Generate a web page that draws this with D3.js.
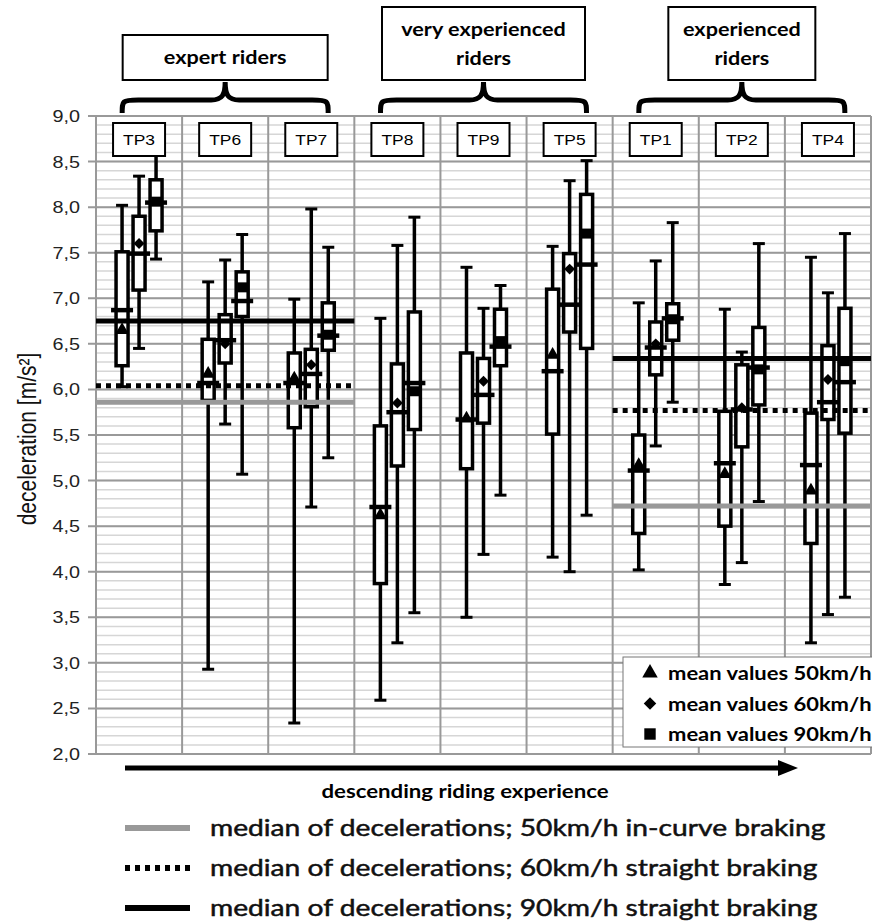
<!DOCTYPE html>
<meta charset="utf-8">
<head>
    <title>Deceleration box plots</title>
    <script src="https://d3js.org/d3.v7.min.js"></script>
</head>

<style>
    body { margin: 0; background: #fff; }
    text { font-family: "Liberation Sans", Arial, sans-serif; }
    .head { font-family: Lato, "Open Sans", sans-serif; font-weight: bold; }
    .plain { font-family: Lato, "Open Sans", sans-serif; font-weight: normal; }
</style>

<svg id="chart"></svg>

<script>
    // participants, left to right
    var participants = ["TP3", "TP6", "TP7", "TP8", "TP9", "TP5", "TP1", "TP2", "TP4"];
    var speeds = ["50", "60", "90"];

    // 50 km/h in-curve braking
    var min50  = [6.03, 2.93, 2.34, 2.59, 3.50, 4.16, 4.02, 3.86, 3.22];
    var q1_50  = [6.26, 5.88, 5.58, 3.87, 5.13, 5.51, 4.42, 4.50, 4.31];
    var med50  = [6.87, 6.07, 6.07, 4.71, 5.67, 6.20, 5.11, 5.19, 5.17];
    var q3_50  = [7.51, 6.55, 6.40, 5.60, 6.40, 7.10, 5.50, 5.76, 5.74];
    var max50  = [8.02, 7.18, 6.99, 6.78, 7.34, 7.57, 6.95, 6.88, 7.45];
    var mean50 = [6.65, 6.17, 6.12, 4.62, 5.68, 6.38, 5.17, 5.07, 4.89];

    // 60 km/h straight braking
    var min60  = [6.45, 5.62, 4.71, 3.22, 4.19, 4.00, 5.38, 4.10, 3.53];
    var q1_60  = [7.09, 6.29, 5.81, 5.16, 5.63, 6.63, 6.16, 5.37, 5.67];
    var med60  = [7.49, 6.54, 6.17, 5.75, 5.94, 6.93, 6.46, 5.78, 5.86];
    var q3_60  = [7.90, 6.82, 6.44, 6.28, 6.34, 7.49, 6.74, 6.27, 6.48];
    var max60  = [8.34, 7.42, 7.98, 7.58, 6.89, 8.29, 7.41, 6.41, 7.06];
    var mean60 = [7.60, 6.50, 6.27, 5.85, 6.09, 7.32, 6.50, 5.80, 6.11];

    // 90 km/h straight braking
    var min90  = [7.43, 5.07, 5.25, 3.55, 4.84, 4.62, 5.86, 4.77, 3.72];
    var q1_90  = [7.74, 6.80, 6.43, 5.56, 6.26, 6.45, 6.54, 5.83, 5.52];
    var med90  = [8.05, 6.97, 6.59, 6.07, 6.47, 7.37, 6.78, 6.24, 6.08];
    var q3_90  = [8.30, 7.29, 6.95, 6.85, 6.88, 8.14, 6.94, 6.68, 6.89];
    var max90  = [8.62, 7.70, 7.56, 7.89, 7.14, 8.51, 7.83, 7.60, 7.71];
    var mean90 = [8.06, 7.12, 6.60, 5.98, 6.53, 7.71, 6.77, 6.22, 6.31];

    // rider groups and their medians (null = not drawn)
    var groupLines = [["expert riders"], ["very experienced", "riders"], ["experienced", "riders"]];
    var groupMembers = [["TP3", "TP6", "TP7"], ["TP8", "TP9", "TP5"], ["TP1", "TP2", "TP4"]];
    var groupMed50 = [5.86, null, 4.72];
    var groupMed60 = [6.04, null, 5.77];
    var groupMed90 = [6.75, null, 6.34];

    var yTicks = [2, 2.5, 3, 3.5, 4, 4.5, 5, 5.5, 6, 6.5, 7, 7.5, 8, 8.5, 9];

    var W = 872, H = 923;
    var SX = 1.2; // the original picture is stretched sideways
    var svg = d3.select('#chart').attr('width', W).attr('height', H);

    function stext(sel, tx, ty) {
        return sel.append('text')
            .attr('transform', 'translate(' + tx + ',' + ty + ') scale(' + SX + ',1)');
    }

    var y = d3.scaleLinear().domain([2, 9]).range([754, 116]);
    var x = d3.scaleBand().domain(participants).range([96, 871]);
    var xs = d3.scalePoint().domain(speeds).range([-17, 17]);

    var stats = {
        "50": [min50, q1_50, med50, q3_50, max50, mean50],
        "60": [min60, q1_60, med60, q3_60, max60, mean60],
        "90": [min90, q1_90, med90, q3_90, max90, mean90]
    };
    var boxes = [];
    speeds.forEach(function (s) {
        participants.forEach(function (p, i) {
            var a = stats[s];
            boxes.push({tp: p, speed: s, min: a[0][i], q1: a[1][i], med: a[2][i],
                        q3: a[3][i], max: a[4][i], mean: a[5][i]});
        });
    });
    function cx(d) { return x(d.tp) + x.bandwidth() / 2 + xs(d.speed); }

    // grid
    var grid = svg.append('g');
    var minor = d3.range(20, 91).map(function (v) { return v / 10; });
    grid.selectAll('line.minor').data(minor).enter().append('line')
        .attr('x1', 96).attr('x2', 871)
        .attr('y1', function (d) { return y(d); }).attr('y2', function (d) { return y(d); })
        .attr('stroke', '#d6d6d6').attr('stroke-width', 1.5);
    grid.selectAll('line.major').data(yTicks).enter().append('line')
        .attr('x1', 88).attr('x2', 871)
        .attr('y1', function (d) { return y(d); }).attr('y2', function (d) { return y(d); })
        .attr('stroke', '#999').attr('stroke-width', 2);
    grid.selectAll('line.col').data(d3.range(10)).enter().append('line')
        .attr('x1', function (d) { return 96 + d * x.step(); })
        .attr('x2', function (d) { return 96 + d * x.step(); })
        .attr('y1', 116).attr('y2', 754)
        .attr('stroke', '#999').attr('stroke-width', 2);

    // y axis labels
    yTicks.forEach(function (t) {
        stext(svg, 80, y(t) + 6)
            .attr('text-anchor', 'end').attr('font-size', 16.5).attr('fill', '#222')
            .text(d3.format('.1f')(t).replace('.', ','));
    });
    svg.append('text')
        .attr('transform', 'translate(36,439) scale(' + SX + ',1) rotate(-90)')
        .attr('text-anchor', 'middle').attr('font-size', 21).attr('fill', '#111')
        .text('deceleration [m/s²]');

    // whiskers
    var plot = svg.append('g');
    plot.selectAll('line.wh').data(boxes).enter().append('line')
        .attr('x1', cx).attr('x2', cx)
        .attr('y1', function (d) { return y(d.min); }).attr('y2', function (d) { return y(d.max); })
        .attr('stroke', '#000').attr('stroke-width', 3.5);
    ['min', 'max'].forEach(function (k) {
        plot.selectAll('line.cap' + k).data(boxes).enter().append('line')
            .attr('x1', function (d) { return cx(d) - 6; }).attr('x2', function (d) { return cx(d) + 6; })
            .attr('y1', function (d) { return y(d[k]); }).attr('y2', function (d) { return y(d[k]); })
            .attr('stroke', '#000').attr('stroke-width', 3);
    });
    // boxes
    plot.selectAll('rect.box').data(boxes).enter().append('rect')
        .attr('x', function (d) { return cx(d) - 6; }).attr('width', 12)
        .attr('y', function (d) { return y(d.q3); })
        .attr('height', function (d) { return y(d.q1) - y(d.q3); })
        .attr('fill', '#fff').attr('stroke', '#000').attr('stroke-width', 3.5);
    // medians
    plot.selectAll('line.med').data(boxes).enter().append('line')
        .attr('x1', function (d) { return cx(d) - 11; }).attr('x2', function (d) { return cx(d) + 11; })
        .attr('y1', function (d) { return y(d.med); }).attr('y2', function (d) { return y(d.med); })
        .attr('stroke', '#000').attr('stroke-width', 4.5);
    // means
    var sym = {"50": d3.symbolTriangle, "60": d3.symbolSquare, "90": d3.symbolSquare};
    var symSize = {"50": 80, "60": 60, "90": 100};
    var symRot = {"50": 0, "60": 45, "90": 0};
    function symPath(s, k) { return d3.symbol().type(sym[s]).size(symSize[s] * k)(); }
    plot.selectAll('path.mean').data(boxes).enter().append('path')
        .attr('transform', function (d) {
            return 'translate(' + cx(d) + ',' + y(d.mean) + ') rotate(' + symRot[d.speed] + ')';
        })
        .attr('d', function (d) { return symPath(d.speed, 1); })
        .attr('fill', '#000');

    // group medians
    var ref = svg.append('g');
    var refStyles = [
        {vals: groupMed50, color: '#999', dash: null},
        {vals: groupMed60, color: '#000', dash: '5,5'},
        {vals: groupMed90, color: '#000', dash: null}
    ];
    refStyles.forEach(function (st) {
        groupMembers.forEach(function (m, gi) {
            if (st.vals[gi] === null) return;
            ref.append('line')
                .attr('x1', x(m[0])).attr('x2', x(m[m.length - 1]) + x.bandwidth())
                .attr('y1', y(st.vals[gi])).attr('y2', y(st.vals[gi]))
                .attr('stroke', st.color).attr('stroke-width', 5)
                .attr('stroke-dasharray', st.dash);
        });
    });

    // participant labels
    var lab = svg.append('g').selectAll('g').data(participants).enter().append('g')
        .attr('transform', function (d) { return 'translate(' + (x(d) + x.bandwidth() / 2) + ',139)'; });
    lab.append('rect').attr('x', -26).attr('y', -16).attr('width', 52).attr('height', 33)
        .attr('fill', '#fff').attr('stroke', '#000').attr('stroke-width', 2);
    lab.each(function (d) {
        stext(d3.select(this), 0, 6).attr('text-anchor', 'middle').attr('font-size', 14.5).text(d);
    });

    // group headers with braces
    var boxW = [205, 203, 147], boxTop = [35, 7, 7];
    groupMembers.forEach(function (m, gi) {
        var x0 = x(m[0]), x1 = x(m[m.length - 1]) + x.bandwidth();
        var c = (x0 + x1) / 2, a = c - 103, b = c + 103;
        var g = svg.append('g');
        g.append('path')
            .attr('d', 'M' + a + ',113 C' + a + ',101 ' + a + ',100 ' + (a + 16) + ',100 L' + (c - 14) + ',100 C' +
                  (c - 3) + ',100 ' + c + ',95 ' + c + ',82 C' + c + ',95 ' + (c + 3) + ',100 ' + (c + 14) + ',100 L' +
                  (b - 16) + ',100 C' + b + ',100 ' + b + ',101 ' + b + ',113')
            .attr('fill', 'none').attr('stroke', '#000').attr('stroke-width', 5);
        g.append('rect').attr('x', c - boxW[gi] / 2).attr('y', boxTop[gi])
            .attr('width', boxW[gi]).attr('height', 80 - boxTop[gi])
            .attr('fill', '#fff').attr('stroke', '#000').attr('stroke-width', 2);
        var lines = groupLines[gi];
        lines.forEach(function (t, li) {
            stext(g, c, lines.length === 1 ? 64 : 36 + li * 29)
                .attr('class', 'head').attr('text-anchor', 'middle').attr('font-size', 18).text(t);
        });
    });

    // mean legend
    var leg = svg.append('g').attr('transform', 'translate(623,657)');
    leg.append('rect').attr('width', 260).attr('height', 90)
        .attr('fill', '#fff').attr('stroke', '#777').attr('stroke-width', 1);
    speeds.forEach(function (s, i) {
        leg.append('path')
            .attr('transform', 'translate(27,' + (16 + i * 30.5) + ') rotate(' + symRot[s] + ')')
            .attr('d', symPath(s, 1.3))
            .attr('fill', '#000');
        stext(leg, 45, 23 + i * 30.5)
            .attr('class', 'head').attr('font-size', 18.3).text('mean values ' + s + 'km/h');
    });

    // experience arrow
    svg.append('line').attr('x1', 125).attr('x2', 780).attr('y1', 768).attr('y2', 768)
        .attr('stroke', '#000').attr('stroke-width', 5);
    svg.append('path').attr('d', 'M778,760 L798,768 L778,776 Z').attr('fill', '#000');
    stext(svg, 465, 798)
        .attr('class', 'head').attr('text-anchor', 'middle').attr('font-size', 18.5)
        .text('descending riding experience');

    // median legend
    var medLabels = ["median of decelerations; 50km/h in-curve braking",
                     "median of decelerations; 60km/h straight braking",
                     "median of decelerations; 90km/h straight braking"];
    refStyles.forEach(function (st, i) {
        var yy = 828 + i * 40;
        svg.append('line').attr('x1', 125).attr('x2', 190).attr('y1', yy).attr('y2', yy)
            .attr('stroke', st.color).attr('stroke-width', 6)
            .attr('stroke-dasharray', st.dash);
        stext(svg, 210, yy + 8)
            .attr('class', 'plain').attr('font-size', 23.5).attr('fill', '#111')
            .attr('stroke', '#111').attr('stroke-width', 0.5)
            .text(medLabels[i]);
    });
</script>
